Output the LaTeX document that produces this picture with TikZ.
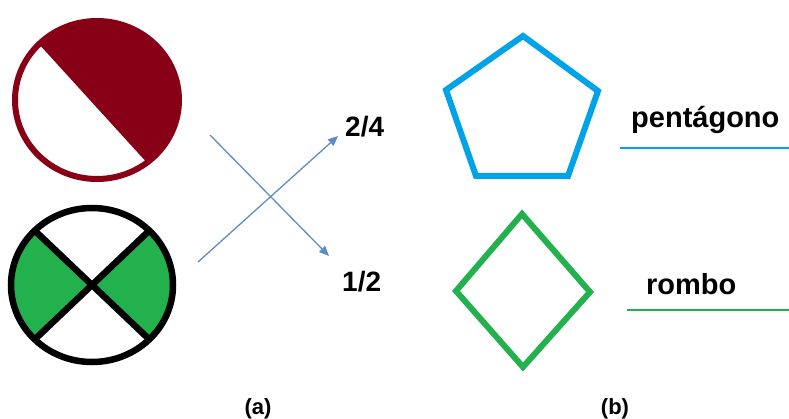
\documentclass[tikz,border=0pt]{standalone}
\usepackage{fontspec}
\setmainfont{Liberation Sans}
\usetikzlibrary{arrows.meta,calc}
\definecolor{dred}{RGB}{136,0,21}
\definecolor{pgreen}{RGB}{34,177,76}
\definecolor{pblue}{RGB}{0,162,232}
\definecolor{ablue}{RGB}{95,140,198}
\tikzset{
  lbl/.style={anchor=base west,inner sep=0pt,font=\fontsize{28}{30}\selectfont\bfseries},
  wlbl/.style={anchor=base west,inner sep=0pt,font=\fontsize{29}{31}\selectfont\bfseries},
  capt/.style={anchor=base,inner sep=0pt,font=\fontsize{22}{24}\selectfont\bfseries},
  arr/.style={draw=ablue,line width=1.3pt,-{Triangle[length=10pt,width=8.5pt]}},
  polyl/.style={line width=6pt,line join=miter},
}
\begin{document}
\begin{tikzpicture}[x=1pt,y=-1pt]
\useasboundingbox (0,0) rectangle (789,419);
% top circle
\coordinate (c1) at (97,100);
\fill[dred] ($(c1)+(52.5:82 and 79)$) arc[start angle=52.5,end angle=-135,x radius=82,y radius=79] -- cycle;
\draw[dred,line width=6pt] (c1) ellipse[x radius=82,y radius=79];
% bottom circle
\coordinate (c2) at (92,285);
\fill[pgreen] (c2) -- ++(-45:81 and 77) arc[start angle=-45,end angle=45,x radius=81,y radius=77] -- cycle;
\fill[pgreen] (c2) -- ++(135:81 and 77) arc[start angle=135,end angle=225,x radius=81,y radius=77] -- cycle;
\coordinate (p1) at ($(c2)+(-135:81 and 77)$);
\coordinate (p2) at ($(c2)+(45:81 and 77)$);
\coordinate (p3) at ($(c2)+(-45:81 and 77)$);
\coordinate (p4) at ($(c2)+(135:81 and 77)$);
\draw[black,line width=6.5pt] (p1) -- (p2);
\draw[black,line width=6.5pt] (p3) -- (p4);
\draw[black,line width=6.5pt] (c2) ellipse[x radius=81,y radius=77];
% arrows and fractions
\node[lbl] (f1) at (345,137) {2/4};
\node[lbl] (f2) at (342,292) {1/2};
\coordinate (s1) at (210,135);
\coordinate (e1) at (329,256);
\coordinate (s2) at (198,262);
\coordinate (e2) at (338,136);
\draw[arr] (s1) -- (e1);
\draw[arr] (s2) -- (e2);
% pentagon
\draw[pblue,polyl] (523,36) -- (598,91) -- (568,176) -- (476,176) -- (446,90) -- cycle;
% rhombus
\draw[pgreen,polyl] (522,214) -- (590,292) -- (523,367) -- (456,291) -- cycle;
% labels
\node[wlbl] (pt) at (631,128) {pentágono};
\node[wlbl] (rb) at (646,295) {rombo};
\coordinate (u1a) at (620,148);
\coordinate (u1b) at (789,148);
\coordinate (u2a) at (627,310);
\coordinate (u2b) at (789,310);
\draw[pblue,line width=1.5pt] (u1a) -- (u1b);
\draw[pgreen,line width=1.5pt] (u2a) -- (u2b);
\node[capt] (la) at (258,414) {(a)};
\node[capt] (lb) at (615,414) {(b)};
\end{tikzpicture}
\end{document}
